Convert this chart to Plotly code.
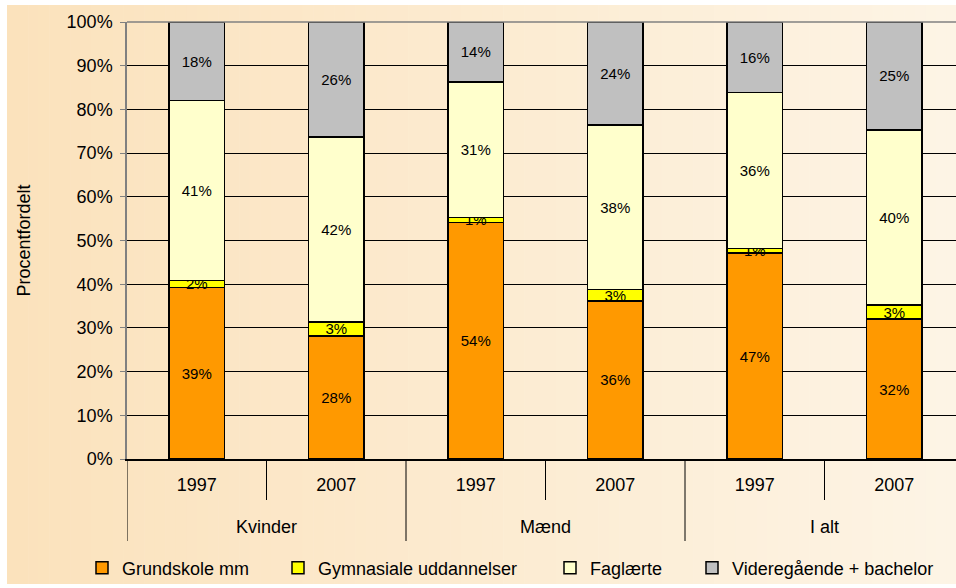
import plotly.graph_objects as go

# ---- data ----
groups = ["Kvinder", "Mænd", "I alt"]
years = ["1997", "2007", "1997", "2007", "1997", "2007"]
series_names = ["Grundskole mm", "Gymnasiale uddannelser", "Faglærte", "Videregående + bachelor"]
grundskole = [39.3, 28.2, 54.1, 36.2, 47.1, 32.0]
gymnasiale = [1.5, 3.2, 1.2, 2.6, 1.1, 3.2]
faglaerte = [41.2, 42.3, 31.0, 37.6, 35.7, 40.1]
videregaaende = [18.0, 26.3, 13.7, 23.6, 16.1, 24.7]
y_ticks = [0, 10, 20, 30, 40, 50, 60, 70, 80, 90, 100]

colors = ["#FF9900", "#FFFF00", "#FFFFCC", "#C0C0C0"]
FONT = "Liberation Sans, Arial, sans-serif"

W, H = 956, 588
L = 127          # plot left edge in px
T = 22           # plot top
BOT = 459        # plot bottom (0%)
cat_w = 139.5
R = 0
pw = W - L - R
B = H - BOT
ph = BOT - T
x_pos = list(range(len(years)))
x_range = [-0.5, -0.5 + pw / cat_w]

def sx(s):  # pixel x -> paper fraction
    return (s - L) / pw

def sy(s):  # pixel y -> paper fraction
    return (BOT - s) / ph

fig = go.Figure()

legend_centres = [102, 298, 570, 712]   # px of symbol centres
legend_ids = ["legend", "legend2", "legend3", "legend4"]

for i, (name, vals) in enumerate(zip(series_names, [grundskole, gymnasiale, faglaerte, videregaaende])):
    fig.add_trace(go.Bar(
        x=x_pos, y=vals, name=name,
        marker=dict(color=colors[i], line=dict(color="#000000", width=1.5)),
        width=0.4,
        text=[f"{v:.0f}%" for v in vals],
        texttemplate="%{text}",
        textposition="inside", insidetextanchor="middle", textangle=0,
        textfont=dict(family=FONT, size=15, color="#000000"),
        legend=legend_ids[i],
    ))

shapes = []
# background gradient (x 7..956, y 5..584)
N = 90
x0s, x1s = 7, 957
y0s, y1s = 5, 584
c0 = (251, 226, 188)
c1 = (253, 244, 229)
for k in range(N):
    t = k / (N - 1)
    c = tuple(round(c0[j] + (c1[j] - c0[j]) * t) for j in range(3))
    xa = x0s + (x1s - x0s) * k / N
    xb = x0s + (x1s - x0s) * (k + 1) / N + 0.6
    shapes.append(dict(type="rect", xref="paper", yref="paper",
                       x0=sx(xa), x1=sx(xb), y0=sy(y1s), y1=sy(y0s),
                       fillcolor=f"rgb{c}", line=dict(width=0), layer="below"))

# top border line (gray)
shapes.append(dict(type="line", xref="paper", yref="paper", x0=0, x1=1, y0=1, y1=1,
                   line=dict(color="#808080", width=1.5), layer="above"))

# category dividers
for k in range(0, len(years) + 1):
    xd = -0.5 + k
    if xd > x_range[1]:
        continue
    ybot = 541 if k % 2 == 0 else 500
    shapes.append(dict(type="line", xref="x", yref="paper", x0=xd, x1=xd,
                       y0=0, y1=sy(ybot), line=dict(color="#000000", width=1)))

annotations = []
for g, name in enumerate(groups):
    annotations.append(dict(x=2 * g + 0.5, y=sy(527), xref="x", yref="paper",
                            text=name, showarrow=False, yanchor="middle",
                            font=dict(family=FONT, size=18, color="#000000")))

layout_legends = {}
for i, lid in enumerate(legend_ids):
    layout_legends[lid] = dict(
        x=sx(legend_centres[i] - 20), xanchor="left",
        y=sy(568), yanchor="middle",
        orientation="h", bgcolor="rgba(0,0,0,0)",
        font=dict(family=FONT, size=18, color="#000000"),
    )

fig.update_layout(
    width=W, height=H,
    margin=dict(l=L, r=R, t=T, b=B, autoexpand=False),
    barmode="stack",
    paper_bgcolor="#FFFFFF",
    plot_bgcolor="rgba(0,0,0,0)",
    font=dict(family=FONT, size=18, color="#000000"),
    showlegend=True,
    uniformtext=dict(minsize=15, mode="show"),
    shapes=shapes,
    annotations=annotations,
    xaxis=dict(range=x_range, tickvals=x_pos, ticktext=years, ticks="",
               showgrid=False, zeroline=False, showline=True,
               linecolor="#000000", linewidth=1.5,
               tickfont=dict(family=FONT, size=18, color="#000000"),
               ticklabelstandoff=9),
    yaxis=dict(range=[0, 100], tickvals=y_ticks, ticktext=[f"{v}%" for v in y_ticks],
               ticks="outside", ticklen=5, tickcolor="#808080",
               showgrid=True, gridcolor="#000000", gridwidth=1,
               zeroline=False, showline=True, linecolor="#808080", linewidth=1.5,
               tickfont=dict(family=FONT, size=18, color="#000000"),
               ticklabelstandoff=4,
               title=dict(text="Procentfordelt", standoff=31,
                          font=dict(family=FONT, size=18, color="#000000"))),
    **layout_legends,
)

fig.write_html(
    "out.html",
    config={"displayModeBar": False},
    post_script="document.body.style.margin='0';document.documentElement.style.overflow='hidden';",
)
